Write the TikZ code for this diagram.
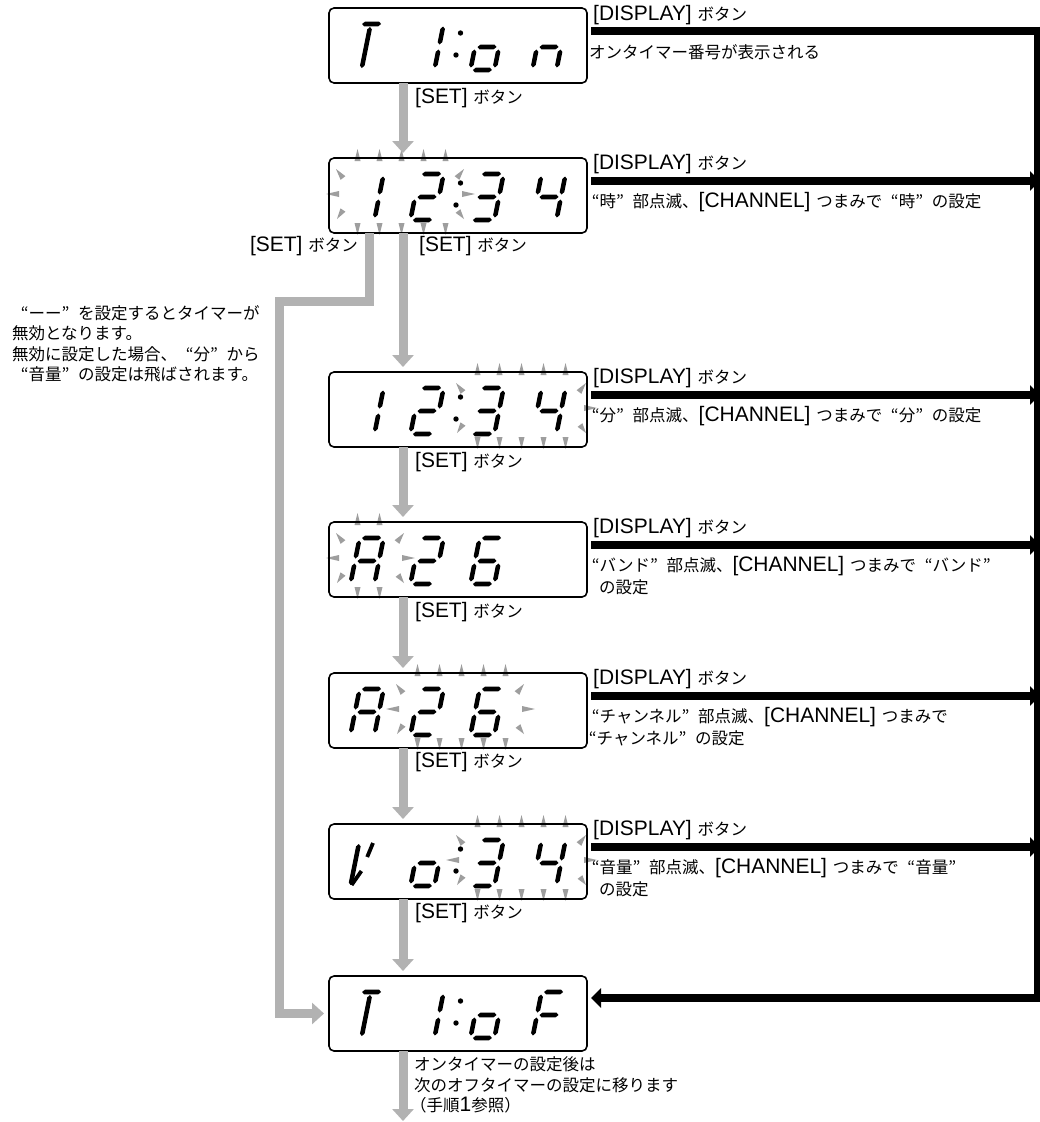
\documentclass[tikz,border=0pt]{standalone}
\usepackage{fontspec}
\setmainfont{Noto Sans CJK JP}
\newfontfamily\lat{Liberation Sans}[Scale=1.27]
\usetikzlibrary{arrows.meta,calc}
\definecolor{flowgray}{RGB}{178,178,178}
\definecolor{raygray}{RGB}{158,158,158}
% full-width quotation marks
\newcommand\oq{\makebox[1em][r]{“}}
\newcommand\cq{\makebox[1em][l]{”}}
% slanted seven-segment helpers (local u right, v up)
\newcommand\dpt[2]{({(#1)+0.2*(#2)},{-(#2)})}
\newcommand\hseg[3]{\fill \dpt{#1}{#3} -- \dpt{#1+2.4}{#3+2.3} -- \dpt{#2-2.4}{#3+2.3} -- \dpt{#2}{#3} -- \dpt{#2-2.4}{#3-2.3} -- \dpt{#1+2.4}{#3-2.3} -- cycle;}
\newcommand\vseg[3]{\fill \dpt{#1}{#2} -- \dpt{#1+2.3}{#2+2.4} -- \dpt{#1+2.3}{#3-2.4} -- \dpt{#1}{#3} -- \dpt{#1-2.3}{#3-2.4} -- \dpt{#1-2.3}{#2+2.4} -- cycle;}
\newcommand\segA{\hseg{4.5}{23.5}{48}}
\newcommand\segG{\hseg{4.5}{23.5}{25}}
\newcommand\segD{\hseg{4.5}{23.5}{2}}
\newcommand\segF{\vseg{2}{27.5}{45.5}}
\newcommand\segE{\vseg{2}{4.5}{22.5}}
\newcommand\segB{\vseg{26}{27.5}{45.5}}
\newcommand\segC{\vseg{26}{4.5}{22.5}}
\newcommand\digit[3]{\begin{scope}[shift={(#1,#2)}]#3\end{scope}}
\newcommand\dcol[1]{\fill (460.5,{#1+25}) circle (2.7pt); \fill (456,{#1+47}) circle (2.7pt);}
% blinking rays
\newcommand\ray[4]{\fill[raygray] ($({#1},{#2})!3pt!90:({#3},{#4})$) -- ({#3},{#4}) -- ($({#1},{#2})!3pt!-90:({#3},{#4})$) -- cycle;}
\newcommand\raysTB[3]{\foreach \k in {1,...,#3}{\pgfmathsetmacro\rx{#1+9.5+22*(\k-1)}\ray{\rx}{#2+3}{\rx}{#2-9}\ray{\rx}{#2+65}{\rx}{#2+77}}}
\newcommand\rayUL[2]{\ray{#1-5}{#2+20}{#1-12}{#2+11}}
\newcommand\rayML[2]{\ray{#1-9}{#2+36}{#1-22}{#2+36}}
\newcommand\rayLL[2]{\ray{#1-5}{#2+52}{#1-11}{#2+61}}
\newcommand\raysR[2]{\ray{#1+11}{#2+20}{#1+18}{#2+11}\ray{#1+16}{#2+36}{#1+29}{#2+36}\ray{#1+12}{#2+53}{#1+18}{#2+61}}
\begin{document}
\begin{tikzpicture}[x=1pt,y=-1pt,
  dispbox/.style={draw,line width=1.6pt,rounded corners=5pt,minimum width=258pt,minimum height=75pt,inner sep=0pt,outer sep=0pt},
  flowarrow/.style={draw=flowgray,line width=9pt,-{Triangle[width=21pt,length=12pt]}},
  blackarrow/.style={draw=black,line width=8.5pt,-{Triangle[width=19pt,length=10pt]}},
  blackline/.style={draw=black,line width=8.5pt},
  lbl/.style={anchor=west,inner sep=0pt,font=\fontsize{16.5}{21}\selectfont}]
\useasboundingbox (0,0) rectangle (1040,1122);
\fill[white] (0,0) rectangle (1040,1122);

% ---- blinking rays ----
\raysTB{348}{158}{5}\rayUL{348}{158}\rayML{348}{158}\rayLL{348}{158}\raysR{446}{158}
\raysTB{468}{372}{5}\rayUL{468}{372}\rayLL{468}{372}\raysR{568}{372}
\raysTB{348}{522}{2}\rayUL{348}{522}\rayML{348}{522}\rayLL{348}{522}\raysR{386}{522}
\raysTB{408}{673}{5}\rayUL{408}{673}\rayML{408}{673}\rayLL{408}{673}\raysR{506}{673}
\raysTB{468}{824}{5}\rayUL{468}{824}\rayML{468}{824}\rayLL{468}{824}\raysR{568}{824}

% ---- display boxes ----
\node[dispbox] (b1) at (458,45.5) {};
\node[dispbox] (b2) at (458,195.5) {};
\node[dispbox] (b3) at (458,409.5) {};
\node[dispbox] (b4) at (458,559.5) {};
\node[dispbox] (b5) at (458,710.5) {};
\node[dispbox] (b6) at (458,861.5) {};
\node[dispbox] (b7) at (458,1013.5) {};

% ---- digits ----
% T 1:on
\digit{348}{72}{\segA\vseg{13}{4}{45}}
\digit{408}{72}{\segB\segC}
\dcol{8}
\digit{468}{72}{\segG\segE\segC\segD}
\digit{530}{72}{\segG\segE\segC}
% 12:34
\digit{348}{222}{\segB\segC}
\digit{408}{222}{\segA\segB\segG\segE\segD}
\dcol{158}
\digit{468}{222}{\segA\segB\segG\segC\segD}
\digit{530}{222}{\segF\segG\segB\segC}
% 12:34
\digit{348}{436}{\segB\segC}
\digit{408}{436}{\segA\segB\segG\segE\segD}
\dcol{372}
\digit{468}{436}{\segA\segB\segG\segC\segD}
\digit{530}{436}{\segF\segG\segB\segC}
% A26
\digit{348}{586}{\segA\segB\segC\segE\segF\segG}
\digit{408}{586}{\segA\segB\segG\segE\segD}
\digit{468}{586}{\segA\segF\segG\segE\segD\segC}
% A26
\digit{348}{737}{\segA\segB\segC\segE\segF\segG}
\digit{408}{737}{\segA\segB\segG\segE\segD}
\digit{468}{737}{\segA\segF\segG\segE\segD\segC}
% V o:34
\digit{348}{888}{\vseg{2}{3}{44}\draw[line width=3.8pt] \dpt{3}{3} -- \dpt{10}{17}; \draw[line width=3.8pt] \dpt{16}{45} -- \dpt{13}{31};}
\digit{408}{888}{\segG\segE\segC\segD}
\dcol{824}
\digit{468}{888}{\segA\segB\segG\segC\segD}
\digit{530}{888}{\segF\segG\segB\segC}
% T 1:oF
\digit{348}{1040}{\segA\vseg{13}{4}{45}}
\digit{408}{1040}{\segB\segC}
\dcol{976}
\digit{468}{1040}{\segG\segE\segC\segD}
\digit{530}{1040}{\segA\segF\segG\segE}

% ---- gray flow ----
\coordinate (col) at (403,0);
\draw[flowarrow,shorten >=5pt] (b1.south -| col) -- (b2.north -| col);
\draw[flowarrow,shorten >=5pt] (b2.south -| col) -- (b3.north -| col);
\draw[flowarrow,shorten >=5pt] (b3.south -| col) -- (b4.north -| col);
\draw[flowarrow,shorten >=5pt] (b4.south -| col) -- (b5.north -| col);
\draw[flowarrow,shorten >=5pt] (b5.south -| col) -- (b6.north -| col);
\draw[flowarrow,shorten >=5pt] (b6.south -| col) -- (b7.north -| col);
\coordinate (skipx) at (369,0);
\coordinate (k1) at (369,301);
\coordinate (k2) at (279,301);
\coordinate (k3) at (279,1013.5);
\draw[flowarrow,shorten >=5pt] (b2.south -| skipx) -- (k1) -- (k2) -- (k3) -- (b7.west);
\coordinate (fin) at (403,1121);
\draw[flowarrow] (b7.south -| col) -- (fin);

% ---- black DISPLAY flow ----
\coordinate (railend) at (1040,0);
\coordinate (o1) at ([xshift=4pt,yshift=-23pt]b1.north east);
\coordinate (o2) at ([xshift=4pt,yshift=-23pt]b2.north east);
\coordinate (o3) at ([xshift=4pt,yshift=-23pt]b3.north east);
\coordinate (o4) at ([xshift=4pt,yshift=-23pt]b4.north east);
\coordinate (o5) at ([xshift=4pt,yshift=-23pt]b5.north east);
\coordinate (o6) at ([xshift=4pt,yshift=-23pt]b6.north east);
\coordinate (o7) at ([xshift=4pt,yshift=-22pt]b7.north east);
\coordinate (r1) at (1037,26.75);
\coordinate (r2) at (1037,1002.25);
\draw[blackline] (o1) -- (o1 -| railend);
\draw[line width=6pt] (r1) -- (r2);
\draw[blackarrow] (o2) -- (o2 -| railend);
\draw[blackarrow] (o3) -- (o3 -| railend);
\draw[blackarrow] (o4) -- (o4 -| railend);
\draw[blackarrow] (o5) -- (o5 -| railend);
\draw[blackarrow] (o6) -- (o6 -| railend);
\draw[blackarrow] (o7 -| railend) -- (o7);

% ---- DISPLAY labels & descriptions ----
\node[lbl] (d1) at (593,15) {{\lat[DISPLAY] }ボタン};
\node[lbl] (t1) at (589,52) {オンタイマー番号が表示される};
\node[lbl] (d2) at (593,164) {{\lat[DISPLAY] }ボタン};
\node[lbl] (t2) at (583,202) {\oq 時\cq 部点滅、{\lat[CHANNEL] }つまみで\oq 時\cq の設定};
\node[lbl] (d3) at (593,378) {{\lat[DISPLAY] }ボタン};
\node[lbl] (t3) at (583,416) {\oq 分\cq 部点滅、{\lat[CHANNEL] }つまみで\oq 分\cq の設定};
\node[lbl] (d4) at (593,528) {{\lat[DISPLAY] }ボタン};
\node[lbl] (t4a) at (583,566) {\oq バンド\cq 部点滅、{\lat[CHANNEL] }つまみで\oq バンド\cq};
\node[lbl] (t4b) at (599,587) {の設定};
\node[lbl] (d5) at (593,679) {{\lat[DISPLAY] }ボタン};
\node[lbl] (t5a) at (583,717) {\oq チャンネル\cq 部点滅、{\lat[CHANNEL] }つまみで};
\node[lbl] (t5b) at (580,738) {\oq チャンネル\cq の設定};
\node[lbl] (d6) at (593,830) {{\lat[DISPLAY] }ボタン};
\node[lbl] (t6a) at (583,868) {\oq 音量\cq 部点滅、{\lat[CHANNEL] }つまみで\oq 音量\cq};
\node[lbl] (t6b) at (599,889) {の設定};

% ---- SET labels ----
\node[lbl] (s1) at (415,98) {{\lat[SET] }ボタン};
\node[lbl,anchor=east] (s2l) at (358,246) {{\lat[SET] }ボタン};
\node[lbl] (s2r) at (419,246) {{\lat[SET] }ボタン};
\node[lbl] (s3) at (415,462) {{\lat[SET] }ボタン};
\node[lbl] (s4) at (415,612) {{\lat[SET] }ボタン};
\node[lbl] (s5) at (415,762) {{\lat[SET] }ボタン};
\node[lbl] (s6) at (415,913) {{\lat[SET] }ボタン};

% ---- notes ----
\node[lbl] (n1) at (12,313) {\oq ーー\cq を設定するとタイマーが};
\node[lbl] (n2) at (12,333.5) {無効となります。};
\node[lbl] (n3) at (12,354) {無効に設定した場合、\oq 分\cq から};
\node[lbl] (n4) at (12,374.5) {\oq 音量\cq の設定は飛ばされます。};
\node[lbl] (e1) at (414,1064) {オンタイマーの設定後は};
\node[lbl] (e2) at (414,1085) {次のオフタイマーの設定に移ります};
\node[lbl] (e3) at (410,1105) {（手順{\lat 1}参照）};
\end{tikzpicture}
\end{document}
